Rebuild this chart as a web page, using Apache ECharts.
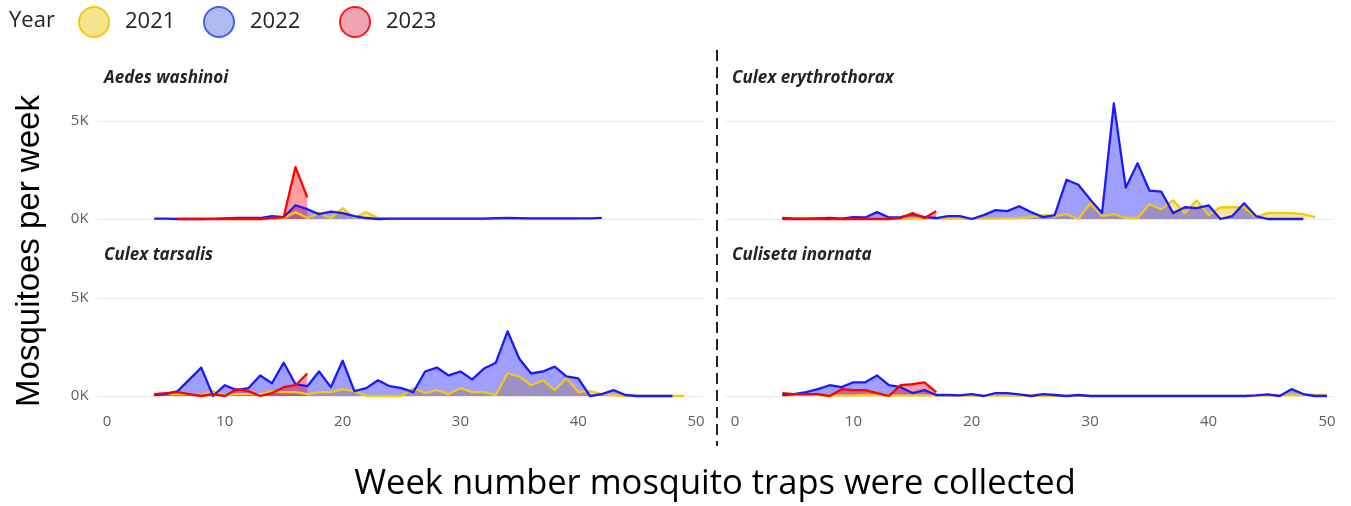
<!DOCTYPE html>
<html>
<head>
<meta charset="utf-8">
<title>Mosquitoes per week</title>
<script src="https://cdn.jsdelivr.net/npm/echarts@6/dist/echarts.min.js"></script>
<style>
  html, body { margin: 0; padding: 0; background: #ffffff; }
  #chart { width: 1351px; height: 506px; }
</style>
</head>
<body>
<div id="chart"></div>
<script>
// ---- Data: weekly mosquito counts per species and year (first week + weekly values) ----
const years = ['2021', '2022', '2023'];
const species = ['Aedes washinoi', 'Culex erythrothorax', 'Culex tarsalis', 'Culiseta inornata'];
const xTickLabels = [0, 10, 20, 30, 40, 50];
const yTickLabels = [0, 5000];

const aedes2021Start = 14;
const aedes2021 = [0, 50, 350, 50, 300, 50, 550, 50, 350, 50, 0, 0, 0, 0, 0, 0, 0, 0, 0, 0, 30, 0, 0, 0, 0, 0, 0];
const aedes2022Start = 4;
const aedes2022 = [20, 20, 0, 0, 0, 10, 30, 50, 50, 50, 150, 100, 700, 500, 250, 380, 300, 150, 50, 0,
  20, 20, 20, 20, 20, 20, 20, 20, 20, 40, 60, 40, 30, 30, 30, 30, 30, 30, 60];
const aedes2023Start = 6;
const aedes2023 = [0, 0, 0, 0, 0, 0, 0, 0, 50, 100, 2650, 1100];

const erythro2021Start = 14;
const erythro2021 = [0, 20, 20, 20, 20, 20, 20, 20, 20, 30, 50, 100, 200, 150, 250, 0, 800, 150, 250, 50,
  50, 750, 500, 950, 300, 950, 200, 600, 600, 600, 100, 300, 300, 300, 250, 100];
const erythro2022Start = 4;
const erythro2022 = [50, 20, 20, 30, 50, 20, 100, 80, 350, 80, 100, 250, 100, 50, 150, 150, 0, 200, 450, 400,
  650, 350, 100, 200, 2000, 1750, 1000, 300, 5900, 1600, 2850, 1450, 1400, 300, 600, 550, 700, 0, 150, 800,
  150, 0, 0, 0, 0];
const erythro2023Start = 4;
const erythro2023 = [0, 0, 0, 0, 0, 0, 0, 0, 0, 0, 50, 300, 50, 400];

const tarsalis2021Start = 4;
const tarsalis2021 = [50, 100, 100, 100, 50, 250, 50, 100, 100, 100, 250, 200, 200, 100, 200, 200, 350, 250, 0, 0,
  0, 0, 400, 150, 300, 100, 400, 200, 200, 50, 1150, 1000, 550, 800, 300, 900, 200, 250, 100, 50,
  0, 0, 0, 0, 0, 0];
const tarsalis2022Start = 4;
const tarsalis2022 = [50, 100, 250, 850, 1450, 0, 550, 300, 400, 1050, 650, 1700, 600, 500, 1250, 450, 1800, 250, 400, 800,
  500, 400, 200, 1250, 1450, 1050, 1250, 850, 1400, 1700, 3300, 1900, 1150, 1250, 1500, 1000, 900, 0, 100, 300,
  50, 0, 0, 0, 0];
const tarsalis2023Start = 4;
const tarsalis2023 = [100, 150, 200, 100, 0, 100, 0, 350, 250, 0, 150, 450, 550, 1150];

const culiseta2021Start = 4;
const culiseta2021 = [30, 50, 100, 50, 30, 30, 30, 50, 50, 30, 30, 30, 30, 20, 20, 20, 20, 20, 20, 20,
  20, 20, 10, 10, 10, 10, 10, 10, 10, 10, 10, 10, 10, 10, 10, 10, 10, 10, 10, 10,
  20, 50, 30, 50, 60, 50, 50];
const culiseta2022Start = 4;
const culiseta2022 = [50, 100, 200, 350, 550, 450, 700, 700, 1050, 550, 450, 150, 300, 50, 50, 30, 100, 0, 150, 150,
  80, 0, 100, 50, 0, 50, 0, 0, 0, 0, 0, 0, 0, 0, 0, 0, 0, 0, 0, 0,
  30, 80, 0, 350, 100, 0, 0];
const culiseta2023Start = 4;
const culiseta2023 = [150, 100, 100, 100, 0, 350, 300, 300, 150, 0, 550, 600, 700, 200];

// Per panel: [start, values] for 2021, 2022, 2023
const panelData = [
  [[aedes2021Start, aedes2021], [aedes2022Start, aedes2022], [aedes2023Start, aedes2023]],
  [[erythro2021Start, erythro2021], [erythro2022Start, erythro2022], [erythro2023Start, erythro2023]],
  [[tarsalis2021Start, tarsalis2021], [tarsalis2022Start, tarsalis2022], [tarsalis2023Start, tarsalis2023]],
  [[culiseta2021Start, culiseta2021], [culiseta2022Start, culiseta2022], [culiseta2023Start, culiseta2023]]
];

// ---- Styling ----
const FONT = '"Segoe UI", "Open Sans", sans-serif';
const lineColors = ['#f2c811', '#1a1aff', '#ff0000'];
const areaColors = ['rgba(242,200,17,0.45)', 'rgba(26,26,255,0.42)', 'rgba(255,0,0,0.38)'];
const legendFills = ['#f8e48c', '#aebcf2', '#f0a3b0'];
const legendBorders = ['#f2c811', '#3f63e6', '#ff1a1a'];

// Panel geometry (pixels): x runs -0.8..50.6 weeks, y runs 0..5000
const panels = [
  { left: 97.6, top: 121, width: 605.5, height: 98, yLabels: true, xLabels: false, titleX: 104, titleY: 70 },
  { left: 725.5, top: 121, width: 608.6, height: 98, yLabels: false, xLabels: false, titleX: 732, titleY: 70 },
  { left: 97.6, top: 298, width: 605.5, height: 98, yLabels: true, xLabels: true, titleX: 104, titleY: 247 },
  { left: 725.5, top: 298, width: 608.6, height: 98, yLabels: false, xLabels: true, titleX: 732, titleY: 247 }
];

function toPairs(start, values) {
  return values.map((v, i) => [start + i, v]);
}

const grids = panels.map(p => ({ left: p.left, top: p.top, width: p.width, height: p.height, containLabel: false }));

const xAxes = panels.map((p, i) => ({
  type: 'value', gridIndex: i, min: -0.8, max: 50.6,
  axisLine: { show: false }, axisTick: { show: false }, splitLine: { show: false },
  axisLabel: {
    show: p.xLabels, customValues: xTickLabels, margin: 18,
    color: '#605e5c', fontSize: 15, fontFamily: FONT
  }
}));

const yAxes = panels.map((p, i) => ({
  type: 'value', gridIndex: i, min: 0, max: 5000, interval: 5000,
  axisLine: { show: false }, axisTick: { show: false },
  splitLine: { show: true, lineStyle: { color: '#e9e9e9', width: 1 } },
  axisLabel: {
    show: p.yLabels, customValues: yTickLabels, margin: 9,
    color: '#605e5c', fontSize: 15, fontFamily: FONT,
    formatter: v => (v / 1000) + 'K'
  }
}));

const series = [];
// Filled areas first, then all outlines on top
panelData.forEach((rows, i) => {
  rows.forEach((row, k) => {
    series.push({
      type: 'line', name: years[k], xAxisIndex: i, yAxisIndex: i,
      data: toPairs(row[0], row[1]), symbol: 'none', silent: true, clip: false,
      lineStyle: { width: 0, color: lineColors[k] },
      itemStyle: { color: lineColors[k] },
      areaStyle: { color: areaColors[k], opacity: 1 },
      z: 2 + k * 0.1, animation: false
    });
  });
});
panelData.forEach((rows, i) => {
  rows.forEach((row, k) => {
    series.push({
      type: 'line', name: years[k], xAxisIndex: i, yAxisIndex: i,
      data: toPairs(row[0], row[1]), symbol: 'none', silent: true, clip: false,
      lineStyle: { width: 2.3, color: lineColors[k], join: 'round' },
      itemStyle: { color: lineColors[k] },
      z: 5 + k * 0.1, animation: false
    });
  });
});

const legendLefts = [78, 203, 339];
const legends = years.map((y, k) => ({
  left: legendLefts[k], top: 6, padding: 0, orient: 'horizontal',
  itemWidth: 46, itemHeight: 30, icon: 'circle', selectedMode: false,
  data: [{ name: y, itemStyle: { color: legendFills[k], borderColor: legendBorders[k], borderWidth: 2 } }],
  textStyle: { fontSize: 22, color: '#252423', fontFamily: FONT, padding: [0, 0, 0, 3] }
}));

const titles = panels.map((p, i) => ({
  text: species[i], left: p.titleX, top: p.titleY, padding: 0,
  textStyle: { fontSize: 17, fontWeight: 'bold', fontStyle: 'italic', color: '#252423', fontFamily: FONT }
}));

const chart = echarts.init(document.getElementById('chart'), null, { renderer: 'canvas' });
chart.setOption({
  backgroundColor: '#ffffff',
  animation: false,
  title: titles,
  legend: legends,
  grid: grids,
  xAxis: xAxes,
  yAxis: yAxes,
  series: series,
  graphic: [
    {
      type: 'text', x: 9, y: 21,
      style: { text: 'Year', fontSize: 22, fill: '#252423', fontFamily: FONT, verticalAlign: 'middle' }
    },
    {
      type: 'line', shape: { x1: 717, y1: 50, x2: 717, y2: 446 },
      style: { stroke: '#222222', lineWidth: 2, lineDash: [11, 6] }
    },
    {
      type: 'text', x: 30, y: 251, rotation: Math.PI / 2,
      style: {
        text: 'Mosquitoes per week', fontSize: 33, fill: '#000000',
        fontFamily: 'Arial, "Liberation Sans", sans-serif', align: 'center', verticalAlign: 'middle'
      }
    },
    {
      type: 'text', x: 715, y: 484,
      style: {
        text: 'Week number mosquito traps were collected', fontSize: 34.5, fill: '#000000',
        fontFamily: FONT, align: 'center', verticalAlign: 'middle'
      }
    }
  ]
});
</script>
</body>
</html>
